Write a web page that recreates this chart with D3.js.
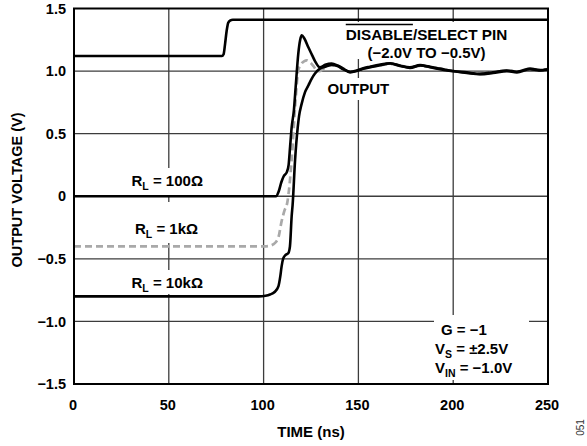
<!DOCTYPE html>
<html>
<head>
<meta charset="utf-8">
<script src="https://cdn.jsdelivr.net/npm/d3@7/dist/d3.min.js"></script>
<style>
  html, body { margin: 0; padding: 0; background: #fff; }
  svg { display: block; font-family: "Liberation Sans", Arial, sans-serif; }
</style>
</head>
<body>
<svg id="chart" width="587" height="446"></svg>
<script>
// ---------- data ----------
const xTicks = [0, 50, 100, 150, 200, 250];
const yTicks = [-1.5, -1.0, -0.5, 0, 0.5, 1.0, 1.5];
const yTickLabels = ["\u22121.5", "\u22121.0", "\u22120.5", "0", "0.5", "1.0", "1.5"];
const xGrid = [50, 100, 150, 200];
const yGrid = [-1.0, -0.5, 0, 0.5, 1.0];

const disableT = [0, 78.0, 78.9, 79.7, 80.5, 81.3, 82.3, 83.8, 250];
const disableV = [1.12, 1.12, 1.135, 1.22, 1.32, 1.385, 1.403, 1.41, 1.41];

const r100T = [0, 106.5, 108.0, 109.3, 110.6, 112.3, 113.2, 114.0, 114.8, 116.0, 116.9, 118.3, 119.3, 120.1, 121.5, 123.6, 125.5, 127.1, 129.7, 132.5, 135.9, 139.0, 142.0, 145.6, 149.1, 153.0, 156.1, 161.0, 166.7, 171.9, 177.2, 182.5, 187.8, 193.0, 200.0, 207.2, 214.1, 221.0, 228.3, 233.6, 240.5, 245.3, 250];
const r100V = [0, 0, 0.04, 0.11, 0.16, 0.195, 0.25, 0.40, 0.55, 0.69, 0.87, 1.14, 1.25, 1.286, 1.26, 1.19, 1.13, 1.08, 1.03, 1.05, 1.06, 1.045, 1.02, 0.99, 1.0, 1.02, 1.03, 1.045, 1.06, 1.045, 1.025, 1.045, 1.035, 1.02, 1.0, 0.99, 0.978, 0.99, 1.005, 0.995, 1.02, 1.008, 1.015];

const r10kT = [0, 97.5, 101.0, 103.4, 105.8, 107.8, 108.8, 109.5, 110.4, 111.5, 113.0, 113.9, 114.8, 115.3, 116.6, 118.0, 118.7, 120.1, 121.8, 123.6, 125.4, 127.1, 129.7, 132.5, 135.9, 139.0, 142.0, 145.6, 149.1, 153.0, 156.1, 161.0, 166.7, 171.9, 177.2, 182.5, 187.8, 193.0, 200.0, 207.2, 214.1, 221.0, 228.3, 233.6, 240.5, 245.3, 250];
const r10kV = [-0.8, -0.8, -0.795, -0.785, -0.765, -0.72, -0.64, -0.56, -0.495, -0.47, -0.455, -0.40, -0.16, -0.07, 0.29, 0.55, 0.64, 0.74, 0.83, 0.885, 0.94, 0.98, 1.02, 1.035, 1.05, 1.04, 1.015, 0.995, 1.005, 1.025, 1.035, 1.05, 1.062, 1.04, 1.03, 1.048, 1.03, 1.015, 0.998, 0.985, 0.975, 0.985, 1.0, 0.99, 1.015, 1.005, 1.012];

const r1kT = [0, 100.5, 103.0, 105.0, 106.5, 107.8, 109.5, 111.0, 112.5, 114.8, 116.6, 118.3, 120.0, 121.5, 122.7, 124.5, 126.3, 128.0, 129.7, 132.5, 135.9, 139.0, 142.0, 145.6, 149.1, 153.0, 156.1, 161.0, 166.7, 171.9, 177.2, 182.5, 187.8, 193.0, 200.0, 207.2, 214.1, 221.0, 228.3, 233.6, 240.5, 245.3, 250];
const r1kV = [-0.4, -0.4, -0.397, -0.385, -0.365, -0.33, -0.2, -0.115, -0.05, 0.29, 0.71, 1.006, 1.06, 1.08, 1.086, 1.07, 1.04, 1.006, 1.0, 1.03, 1.05, 1.04, 1.02, 0.995, 1.0, 1.02, 1.03, 1.045, 1.055, 1.045, 1.03, 1.042, 1.032, 1.018, 1.0, 0.99, 0.98, 0.992, 1.003, 0.998, 1.018, 1.01, 1.015];

// ---------- layout ----------
const svg = d3.select("#chart");
const X0 = 74, X1 = 548, Y0 = 384, Y1 = 8.5;
const x = d3.scaleLinear().domain([0, 250]).range([X0, X1]);
const y = d3.scaleLinear().domain([-1.5, 1.5]).range([Y0, Y1]);

// grid
const grid = svg.append("g").attr("stroke", "#3c3c3c").attr("stroke-width", 1.3);
grid.selectAll(".gx").data(xGrid).enter().append("line")
  .attr("x1", d => x(d)).attr("x2", d => x(d)).attr("y1", Y1).attr("y2", Y0);
grid.selectAll(".gy").data(yGrid).enter().append("line")
  .attr("x1", X0).attr("x2", X1).attr("y1", d => y(d)).attr("y2", d => y(d));

// white label backgrounds (interrupt grid)
const boxes = [
  [126, 168, 86, 27],
  [128, 202, 82, 41],
  [124, 270, 88, 24],
  [340, 22, 174, 37],
  [322, 78, 72, 22],
  [434, 315, 95, 65]
];
svg.append("g").selectAll("rect").data(boxes).enter().append("rect")
  .attr("x", d => d[0]).attr("y", d => d[1]).attr("width", d => d[2]).attr("height", d => d[3])
  .attr("fill", "#fff");

// lines
const line = d3.line().x(d => x(d[0])).y(d => y(d[1])).curve(d3.curveMonotoneX);
const zip = (a, b) => a.map((t, i) => [t, b[i]]);

svg.append("path").datum(zip(r1kT, r1kV)).attr("d", line)
  .attr("fill", "none").attr("stroke", "#a9a9a9").attr("stroke-width", 2.7)
  .attr("stroke-dasharray", "7,4");
svg.append("path").datum(zip(r10kT, r10kV)).attr("d", line)
  .attr("fill", "none").attr("stroke", "#000").attr("stroke-width", 2.6);
svg.append("path").datum(zip(r100T, r100V)).attr("d", line)
  .attr("fill", "none").attr("stroke", "#000").attr("stroke-width", 2.6);
svg.append("path").datum(zip(disableT, disableV)).attr("d", line)
  .attr("fill", "none").attr("stroke", "#000").attr("stroke-width", 2.6);

// frame
svg.append("rect").attr("x", X0).attr("y", Y1).attr("width", X1 - X0).attr("height", Y0 - Y1)
  .attr("fill", "none").attr("stroke", "#000").attr("stroke-width", 2);

// axes labels
const yAxis = d3.axisLeft(y).tickValues(yTicks).tickSize(0).tickPadding(8)
  .tickFormat((d, i) => yTickLabels[i]);
const gy = svg.append("g").attr("transform", `translate(${X0},0)`).call(yAxis);
gy.select(".domain").remove();
gy.selectAll("text").attr("font-size", 14.5).attr("font-weight", "bold")
  .attr("font-family", "Liberation Sans, Arial, sans-serif").attr("fill", "#000");

const xAxis = d3.axisBottom(x).tickValues(xTicks).tickSize(0).tickPadding(16).tickFormat(d3.format("d"));
const gx = svg.append("g").attr("transform", `translate(0,${Y0})`).call(xAxis);
gx.select(".domain").remove();
gx.selectAll("text").attr("font-size", 14.5).attr("font-weight", "bold")
  .attr("font-family", "Liberation Sans, Arial, sans-serif").attr("fill", "#000").attr("dx", -1.5);

// titles
svg.append("text").attr("x", 311).attr("y", 437).attr("text-anchor", "middle")
  .attr("font-size", 15).attr("font-weight", "bold").text("TIME (ns)");
svg.append("text").attr("transform", "translate(22,190) rotate(-90)").attr("text-anchor", "middle")
  .attr("font-size", 14.5).attr("font-weight", "bold").text("OUTPUT VOLTAGE (V)");
svg.append("text").attr("transform", "translate(584,427.5) rotate(-90)").attr("text-anchor", "middle")
  .attr("font-size", 10).attr("fill", "#333").text("051");

// annotations
function subLabel(xp, yp, main, sub, rest) {
  const t = svg.append("text").attr("x", xp).attr("y", yp).attr("font-size", 15).attr("font-weight", "bold");
  t.append("tspan").text(main);
  t.append("tspan").attr("font-size", 10.5).attr("dy", 4).text(sub);
  t.append("tspan").attr("dy", -4).text(rest);
  return t;
}
subLabel(131.5, 186, "R", "L", " = 100\u03A9");
subLabel(135, 234, "R", "L", " = 1k\u03A9");
subLabel(131.5, 287.5, "R", "L", " = 10k\u03A9");

const dis = svg.append("text").attr("x", 426.5).attr("y", 40).attr("text-anchor", "middle")
  .attr("font-size", 15.3).attr("font-weight", "bold").text("DISABLE/SELECT PIN");
const dnode = dis.node();
const startX = dnode.getStartPositionOfChar(0).x;
const endX = dnode.getEndPositionOfChar(6).x;
svg.append("line").attr("x1", startX).attr("x2", endX).attr("y1", 24.5).attr("y2", 24.5)
  .attr("stroke", "#000").attr("stroke-width", 1.4);
svg.append("text").attr("x", 426.5).attr("y", 57.5).attr("text-anchor", "middle")
  .attr("font-size", 15).attr("font-weight", "bold").text("(\u22122.0V TO \u22120.5V)");
svg.append("text").attr("x", 327.5).attr("y", 94).attr("font-size", 15).attr("font-weight", "bold").text("OUTPUT");

svg.append("text").attr("x", 441).attr("y", 334.5).attr("font-size", 15).attr("font-weight", "bold").text("G = \u22121");
subLabel(435, 353.5, "V", "S", " = \u00B12.5V");
subLabel(435, 372.5, "V", "IN", " = \u22121.0V");
</script>
</body>
</html>
